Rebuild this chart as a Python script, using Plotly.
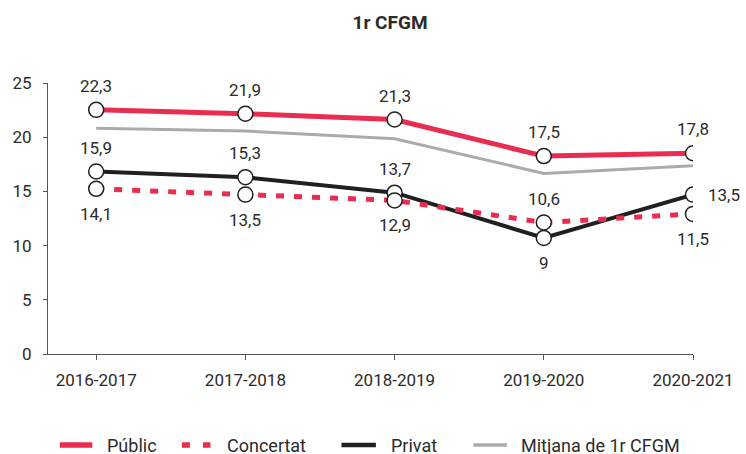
import plotly.graph_objects as go

# --- data -------------------------------------------------------------
courses = ["2016-2017", "2017-2018", "2018-2019", "2019-2020", "2020-2021"]
series_names = ["Públic", "Concertat", "Privat", "Mitjana de 1r CFGM"]
publico = [22.3, 21.9, 21.3, 17.5, 17.8]
concertat = [14.1, 13.5, 12.9, 10.6, 11.5]
privat = [15.9, 15.3, 13.7, 9, 13.5]
mitjana = [20.4, 20.1, 19.3, 15.7, 16.5]
y_ticks = [0, 5, 10, 15, 20, 25]

# --- styling ----------------------------------------------------------
RED = "#E92D50"
BLACK = "#231F20"
GREY = "#ABABAB"
TEXT = "#2B2B2B"
AXIS = "#555555"
FONT = "Roboto"

W, H = 746, 454
ML, MR, MT, MB = 44, 47, 83, 100
PW, PH = W - ML - MR, H - MT - MB

styles = {
    "Públic": dict(color=RED, width=5, dash="solid"),
    "Concertat": dict(color=RED, width=5, dash="8px,10px"),
    "Privat": dict(color=BLACK, width=4, dash="solid"),
    "Mitjana de 1r CFGM": dict(color=GREY, width=3, dash="solid"),
}
values = {
    "Públic": publico,
    "Concertat": concertat,
    "Privat": privat,
    "Mitjana de 1r CFGM": mitjana,
}
# where each value label sits relative to its point
placement = {
    "Públic": ["above"] * 5,
    "Privat": ["above", "above", "above", "below", "right"],
    "Concertat": ["below", "below", "below", "above", "below"],
}


def fmt(v):
    s = f"{v:.1f}"
    if s.endswith(".0"):
        s = s[:-2]
    return s.replace(".", ",")


fig = go.Figure()

# anchor trace so the visible 0-25 value axis is drawn
fig.add_trace(go.Scatter(x=courses, y=[None] * len(courses), mode="lines",
                         showlegend=False, hoverinfo="skip"))

# lines (average first, so it stays underneath)
for name in ["Mitjana de 1r CFGM", "Privat", "Concertat", "Públic"]:
    st = styles[name]
    fig.add_trace(go.Scatter(
        x=courses, y=values[name], name=name, mode="lines", yaxis="y2",
        line=dict(color=st["color"], width=st["width"], dash=st["dash"]),
        showlegend=False, hoverinfo="skip",
    ))

# circle markers on top of the lines
for name in ["Privat", "Concertat", "Públic"]:
    fig.add_trace(go.Scatter(
        x=courses, y=values[name], mode="markers", yaxis="y2",
        marker=dict(size=15, color="white", line=dict(color=BLACK, width=1.5)),
        showlegend=False, hoverinfo="skip",
    ))

annotations = []
for name, places in placement.items():
    for cat, v, pos in zip(courses, values[name], places):
        a = dict(x=cat, y=v, xref="x", yref="y2", text=fmt(v), showarrow=False,
                 font=dict(family=FONT, size=17, color=TEXT), yanchor="middle")
        if pos == "above":
            a.update(yshift=24, xanchor="center")
        elif pos == "below":
            a.update(yshift=-25, xanchor="center")
        else:
            a.update(xanchor="left", xshift=13)
        annotations.append(a)


def px_x(px):
    return (px - ML) / PW


def px_y(py):
    return (MT + PH - py) / PH


# legend drawn as symbol + text entries along the bottom
legend_items = [
    ("Públic", 56, 89, 102, 64),
    ("Concertat", 180, 209, 224, 100),
    ("Privat", 342, 377, 390, 64),
    ("Mitjana de 1r CFGM", 476, 510, 522, 190),
]
LEG_Y = 445
shapes = []
for name, x0, x1, tx, tw in legend_items:
    st = styles[name]
    shapes.append(dict(
        type="line", xref="paper", yref="paper",
        x0=px_x(x0), x1=px_x(x1), y0=px_y(LEG_Y), y1=px_y(LEG_Y),
        line=dict(color=st["color"], width=st["width"] + 0.5,
                  dash="8px,13px" if name == "Concertat" else "solid"),
    ))
    annotations.append(dict(
        x=px_x(tx), y=px_y(LEG_Y), xref="paper", yref="paper", text=name,
        showarrow=False, xanchor="left", yanchor="middle", align="left",
        width=tw, height=24,
        font=dict(family=FONT, size=18, color=TEXT),
    ))

fig.update_layout(
    width=W, height=H,
    margin=dict(l=ML, r=MR, t=MT, b=MB),
    paper_bgcolor="white", plot_bgcolor="white",
    title=dict(text="<b>1r CFGM</b>", x=390 / W, xref="container", xanchor="center",
               y=1 - 22.5 / H, yref="container", yanchor="middle",
               font=dict(family=FONT, size=19, color=TEXT)),
    xaxis=dict(
        type="category", range=[-0.323, 4.0], showgrid=False, zeroline=False,
        showline=True, linecolor=AXIS, linewidth=1,
        ticks="outside", ticklen=5, tickcolor=AXIS, tickwidth=1,
        ticklabelstandoff=6,
        tickfont=dict(family=FONT, size=17, color=TEXT),
    ),
    yaxis=dict(
        range=[0, 25], tickvals=y_ticks, showgrid=False, zeroline=False,
        showline=True, linecolor=AXIS, linewidth=1,
        ticks="outside", ticklen=4, tickcolor=AXIS, tickwidth=1,
        ticklabelstandoff=8,
        tickfont=dict(family=FONT, size=17, color=TEXT),
    ),
    yaxis2=dict(overlaying="y", range=[-3.05, 25.09], visible=False),
    showlegend=False,
    annotations=annotations,
    shapes=shapes,
)

fig.write_html("out.html")
